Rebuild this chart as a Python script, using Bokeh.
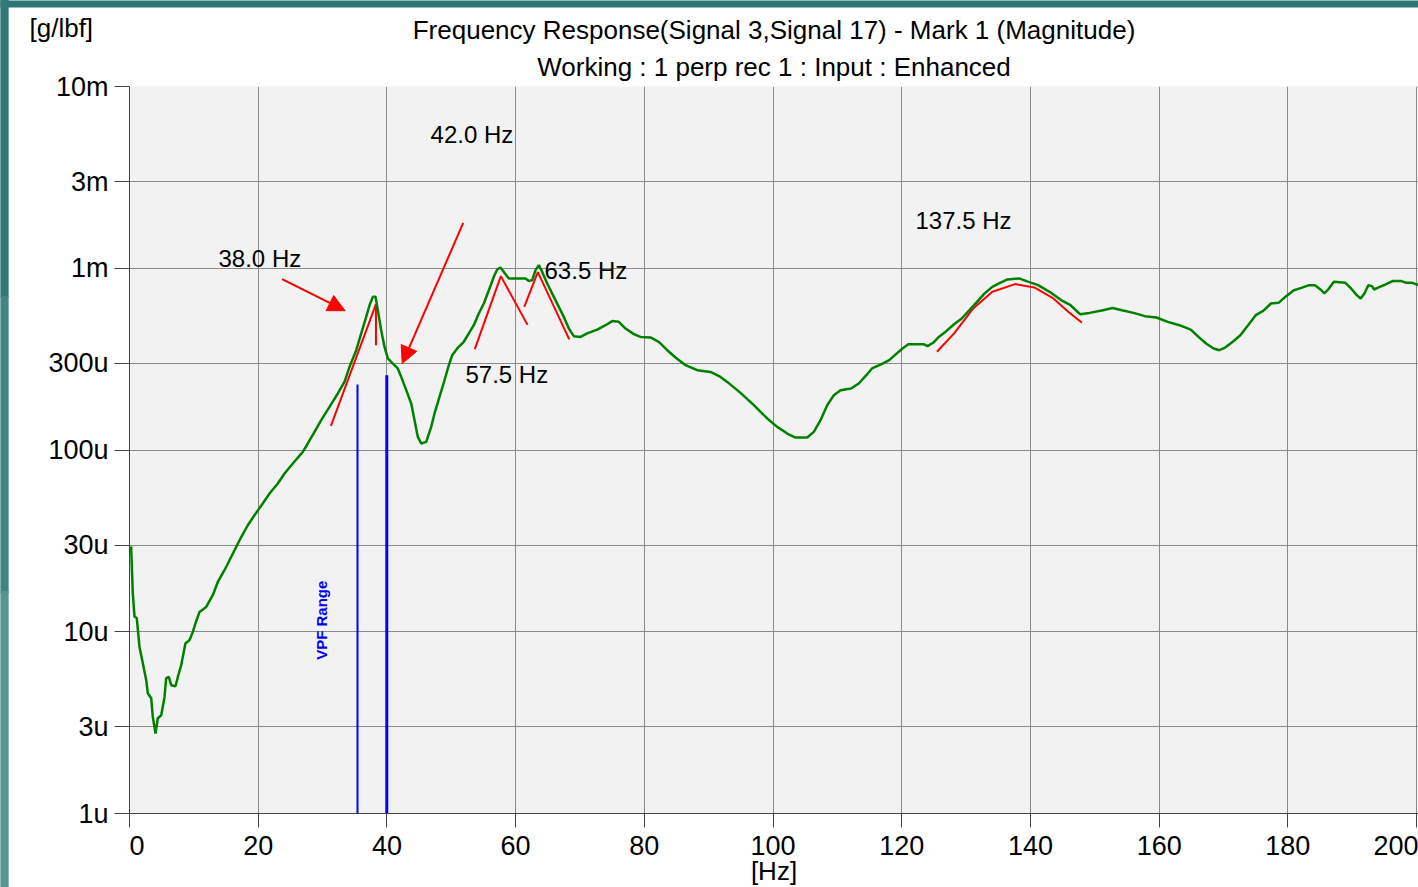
from bokeh.plotting import figure
from bokeh.models import FixedTicker, Label, Title, Arrow, NormalHead, ColumnDataSource
from bokeh.embed import file_html
from bokeh.resources import INLINE
import math

# ---------------- data ----------------
freq_hz = [0.25, 0.51, 0.78, 1.13, 1.55, 2.07, 2.60, 2.84, 3.37, 3.62,
           4.04, 4.40, 4.93, 5.44, 5.70, 6.11, 6.48, 7.15, 7.51, 8.03,
           8.70, 9.32, 9.84, 10.26, 10.88, 11.92, 12.94, 13.72, 14.76, 15.54,
           16.32, 17.36, 18.38, 19.42, 20.71, 21.76, 23.05, 24.09, 25.38, 26.93,
           27.71, 28.75, 29.79, 31.08, 32.37, 33.41, 34.19, 35.23, 36.01, 36.78,
           37.30, 37.81, 38.23, 38.59, 39.11, 39.63, 40.14, 40.92, 41.69, 42.22,
           43.00, 43.78, 44.29, 44.80, 45.33, 46.11, 46.88, 47.40, 48.17, 48.95,
           49.62,
           50.15, 50.92, 51.95, 52.73, 53.50, 54.28, 55.06, 55.84, 56.61, 57.14,
           57.65, 58.17, 58.94, 61.54, 62.05, 62.58, 63.09, 63.61, 64.13, 64.91,
           65.94, 66.71, 67.49, 68.27, 69.04, 70.09, 71.13, 72.68, 73.97, 75.01,
           76.04, 77.08, 78.37, 79.41, 80.96, 82.25, 83.56, 84.85, 86.40, 88.22,
           90.29, 91.84, 92.88, 94.95, 97.02, 99.10, 100.65, 102.21, 103.50, 105.31,
           106.34, 107.38, 108.42, 109.45, 110.49,
           112.12, 113.32, 114.50, 115.38, 116.86, 118.06, 119.24, 120.12, 121.03, 123.39,
           124.00, 124.88, 125.76, 126.96, 128.14, 129.32, 130.52, 131.70, 132.88, 134.08,
           135.26, 136.44, 138.23, 139.71, 141.20, 142.97, 144.76, 146.23, 147.71, 149.20,
           151.27, 152.76, 154.23, 156.02, 157.79, 159.58, 161.35, 163.14, 164.91, 166.11,
           167.29, 168.47, 169.36, 170.26, 171.44, 172.62, 173.82, 175.00, 176.18, 177.37,
           178.55, 179.74, 180.93, 182.11, 183.30, 184.20, 185.08, 185.67, 186.26, 187.16,
           188.93, 189.82, 190.71, 191.31, 191.90, 192.49, 193.08, 193.38, 194.27, 195.17,
           196.35, 197.54, 198.43, 199.32, 200.39]

magnitude = [2.95e-5, 1.63e-5, 1.21e-5, 1.19e-5, 8.25e-6, 6.71e-6, 5.41e-6, 4.59e-6, 4.31e-6, 3.40e-6,
             2.75e-6, 3.34e-6, 3.47e-6, 4.38e-6, 5.55e-6, 5.64e-6, 5.08e-6, 5.01e-6, 5.64e-6, 6.54e-6,
             8.64e-6, 8.98e-6, 9.98e-6, 1.114e-5, 1.285e-5, 1.369e-5, 1.589e-5, 1.879e-5, 2.18e-5, 2.474e-5,
             2.81e-5, 3.32e-5, 3.855e-5, 4.377e-5, 5.08e-5, 5.76e-5, 6.54e-5, 7.43e-5, 8.43e-5, 9.76e-5,
             1.086e-4, 1.258e-4, 1.459e-4, 1.727e-4, 2.046e-4, 2.37e-4, 2.867e-4, 3.54e-4, 4.38e-4, 5.40e-4,
             6.26e-4, 6.96e-4, 6.96e-4, 5.88e-4, 4.56e-4, 3.69e-4, 3.19e-4, 2.99e-4, 2.81e-4, 2.525e-4,
             2.134e-4, 1.803e-4, 1.459e-4, 1.181e-4, 1.086e-4, 1.108e-4, 1.34e-4, 1.589e-4, 1.96e-4, 2.42e-4,
             2.93e-4,
             3.32e-4, 3.62e-4, 3.94e-4, 4.38e-4, 4.86e-4, 5.64e-4, 6.40e-4, 7.57e-4, 8.97e-4, 9.85e-4,
             1.010e-3, 9.55e-4, 8.79e-4, 8.79e-4, 8.52e-4, 8.60e-4, 9.76e-4, 1.040e-3, 9.55e-4, 8.25e-4,
             6.96e-4, 6.13e-4, 5.40e-4, 4.66e-4, 4.23e-4, 4.19e-4, 4.38e-4, 4.60e-4, 4.86e-4, 5.12e-4,
             5.07e-4, 4.66e-4, 4.34e-4, 4.19e-4, 4.16e-4, 3.94e-4, 3.54e-4, 3.23e-4, 2.93e-4, 2.75e-4,
             2.69e-4, 2.525e-4, 2.37e-4, 2.062e-4, 1.764e-4, 1.491e-4, 1.34e-4, 1.232e-4, 1.171e-4, 1.171e-4,
             1.258e-4, 1.459e-4, 1.764e-4, 2.003e-4, 2.134e-4,
             2.18e-4, 2.323e-4, 2.58e-4, 2.81e-4, 2.966e-4, 3.12e-4, 3.40e-4, 3.62e-4, 3.82e-4, 3.82e-4,
             3.73e-4, 3.89e-4, 4.19e-4, 4.52e-4, 4.92e-4, 5.29e-4, 5.88e-4, 6.53e-4, 7.27e-4, 7.90e-4,
             8.31e-4, 8.68e-4, 8.79e-4, 8.42e-4, 8.07e-4, 7.42e-4, 6.68e-4, 6.26e-4, 5.59e-4, 5.68e-4,
             5.88e-4, 6.05e-4, 5.88e-4, 5.68e-4, 5.45e-4, 5.36e-4, 5.07e-4, 4.86e-4, 4.60e-4, 4.19e-4,
             3.855e-4, 3.62e-4, 3.54e-4, 3.66e-4, 3.94e-4, 4.28e-4, 4.86e-4, 5.52e-4, 5.83e-4, 6.40e-4,
             6.45e-4, 7.02e-4, 7.57e-4, 7.80e-4, 8.07e-4, 8.07e-4, 7.64e-4, 7.27e-4, 7.64e-4, 8.42e-4,
             8.31e-4, 7.74e-4, 7.11e-4, 6.82e-4, 7.27e-4, 8.07e-4, 7.97e-4, 7.64e-4, 7.90e-4, 8.14e-4,
             8.52e-4, 8.52e-4, 8.31e-4, 8.31e-4, 8.07e-4]

# red peak-fit markers
fit_38_hz = [31.3, 38.3, 38.3]
fit_38_mag = [1.357e-4, 6.34e-4, 3.77e-4]
fit_57_hz = [53.66, 57.7, 61.85]
fit_57_mag = [3.59e-4, 9.05e-4, 4.88e-4]
fit_63_hz = [61.34, 63.45, 68.33]
fit_63_mag = [6.13e-4, 9.52e-4, 4.06e-4]
fit_137_hz = [125.47, 128.14, 131.11, 134.08, 137.62, 140.59, 143.56, 145.92, 148.0]
fit_137_mag = [3.47e-4, 4.38e-4, 6.01e-4, 7.42e-4, 8.18e-4, 7.84e-4, 6.82e-4, 5.75e-4, 5.01e-4]

# red arrows
arrow_x0 = [23.7, 51.86]
arrow_y0 = [8.71e-4, 1.778e-3]
arrow_x1 = [33.5, 42.38]
arrow_y1 = [5.84e-4, 2.99e-4]

# peak labels
peak_labels = ["38.0 Hz", "42.0 Hz", "57.5 Hz", "63.5 Hz", "137.5 Hz"]
peak_label_hz = [13.83, 46.78, 52.21, 64.49, 122.14]
peak_label_mag = [1.137e-3, 5.47e-3, 2.61e-4, 9.76e-4, 1.84e-3]

# VPF range lines
vpf_hz = [35.43, 39.98]
vpf_top = [2.29e-4, 2.58e-4]
vpf_width = [2, 3]

x_ticks = [0, 20, 40, 60, 80, 100, 120, 140, 160, 180, 200]
x_tick_labels = ["0", "20", "40", "60", "80", "100", "120", "140", "160", "180", "200"]
y_ticks = [1e-6, 3e-6, 1e-5, 3e-5, 1e-4, 3e-4, 1e-3, 3e-3, 1e-2]
y_tick_labels = ["1u", "3u", "10u", "30u", "100u", "300u", "1m", "3m", "10m"]

title_line1 = "Frequency Response(Signal 3,Signal 17) - Mark 1 (Magnitude)"
title_line2 = "Working : 1 perp rec 1 : Input : Enhanced"
y_unit = "[g/lbf]"
x_unit = "[Hz]"

FONT = "Liberation Sans"
NB = "\u00a0"

p = figure(width=1418, height=887, y_axis_type="log",
           x_range=(0, 200.3), y_range=(1e-6, 1e-2),
           output_backend="svg", toolbar_location=None,
           min_border_left=129, min_border_right=0, min_border_top=86, min_border_bottom=74,
           background_fill_color="#f2f2f2", border_fill_color="white", outline_line_color=None)

# axes
x_over = {t: l for t, l in zip(x_ticks, x_tick_labels)}
x_over[x_ticks[0]] = NB * 2 + x_tick_labels[0]          # first label sits right of its tick
p.xaxis.ticker = FixedTicker(ticks=x_ticks)
p.xaxis.major_label_overrides = x_over
p.xaxis.minor_tick_line_color = None
p.xaxis.major_tick_in = 0
p.xaxis.major_tick_out = 14
p.xaxis.major_label_standoff = 3
p.xaxis.major_label_text_font = FONT
p.xaxis.major_label_text_font_size = "27px"
p.xaxis.major_label_text_color = "black"
p.xaxis.axis_line_color = "#444444"
p.xaxis.major_tick_line_color = "#444444"

p.yaxis.ticker = FixedTicker(ticks=y_ticks)
p.yaxis.major_label_overrides = {t: l for t, l in zip(y_ticks, y_tick_labels)}
p.yaxis.minor_tick_line_color = None
p.yaxis.major_tick_in = 0
p.yaxis.major_tick_out = 15
p.yaxis.major_label_standoff = 6
p.yaxis.major_label_text_font = FONT
p.yaxis.major_label_text_font_size = "27px"
p.yaxis.major_label_text_color = "black"
p.yaxis.axis_line_color = "#444444"
p.yaxis.major_tick_line_color = "#444444"

p.xgrid.grid_line_color = "#8a8a8a"
p.ygrid.grid_line_color = "#8a8a8a"
p.xgrid.grid_line_width = 1
p.ygrid.grid_line_width = 1

# VPF range lines
p.segment(x0=vpf_hz, y0=[1e-6, 1e-6], x1=vpf_hz, y1=vpf_top, line_color="#0000ff", line_width=vpf_width)

# red fits
p.multi_line(xs=[fit_38_hz, fit_57_hz, fit_63_hz, fit_137_hz],
             ys=[fit_38_mag, fit_57_mag, fit_63_mag, fit_137_mag],
             line_color="#ff0000", line_width=2)

# main response
p.line(freq_hz, magnitude, line_color="#008000", line_width=2.5)

# arrows
arr_src = ColumnDataSource(dict(x0=arrow_x0, y0=arrow_y0, x1=arrow_x1, y1=arrow_y1))
p.add_layout(Arrow(source=arr_src, x_start="x0", y_start="y0", x_end="x1", y_end="y1",
                   line_color="#ff0000", line_width=2,
                   end=NormalHead(size=17, fill_color="#ff0000", line_color="#ff0000")))

# peak labels
for t, x, y in zip(peak_labels, peak_label_hz, peak_label_mag):
    p.add_layout(Label(x=x, y=y, text=t, text_font=FONT, text_font_size="24px",
                       text_baseline="middle", text_align="left", text_color="black"))

p.add_layout(Label(x=29.79, y=1.157e-5, text="VPF Range", angle=math.pi / 2,
                   text_font=FONT, text_font_size="15px", text_font_style="bold",
                   text_color="#0000ff", text_align="center", text_baseline="middle"))

# ---------------- header: stacked titles ----------------
def title(text, **kw):
    return Title(text=text, text_font=FONT, text_font_size="26px", text_font_style="normal",
                 text_color="black", **kw)

p.add_layout(title(title_line2, align="center", vertical_align="bottom", standoff=9), "above")
p.add_layout(title(NB, align="center", vertical_align="bottom", standoff=-16), "above")
p.add_layout(title(title_line1, align="center", vertical_align="bottom", standoff=-30), "above")
p.add_layout(title(y_unit, align="left", offset=-100, vertical_align="bottom", standoff=-30), "above")

# x unit under the axis
p.add_layout(title(x_unit, align="center", vertical_align="top", standoff=-15), "below")

# window frame strips (teal); padding is (horizontal, vertical)
p.add_layout(Label(x=709, y=3.5, x_units="canvas", y_units="canvas", text=NB, text_font_size="1px",
                   padding=(709, 3), background_fill_color="#2e7575", text_align="center",
                   text_baseline="middle"), "above")
for cy, col in zip([148, 444, 739], ["#317878", "#418582", "#549591"]):
    p.add_layout(Label(x=4, y=cy, x_units="canvas", y_units="canvas", text=NB, text_font_size="1px",
                       padding=(4, 148), background_fill_color=col, text_align="center",
                       text_baseline="middle"), "left")

open("out.html", "w").write(file_html(p, INLINE))
